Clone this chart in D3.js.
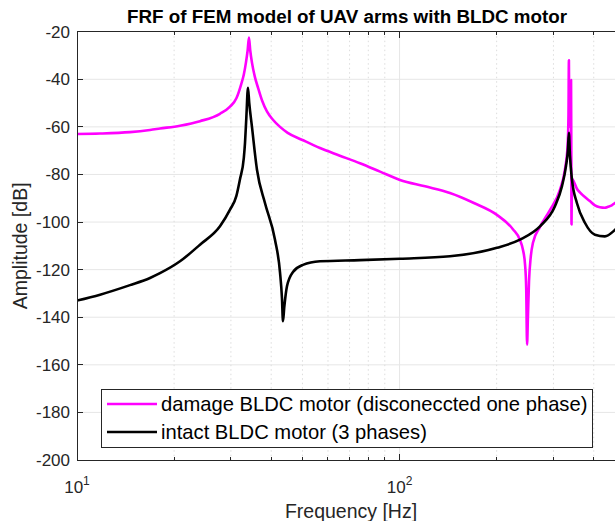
<!DOCTYPE html>
<html>
<head>
<meta charset="utf-8">
<script src="https://cdn.jsdelivr.net/npm/d3@7"></script>
<style>
  html, body { margin: 0; padding: 0; background: #fff; overflow: hidden; }
  svg { display: block; font-family: Arial, "Liberation Sans", Helvetica, sans-serif; }
</style>
</head>
<body>
<svg id="chart" width="615" height="521"></svg>
<script>
// ---------------- DATA ----------------
const titleText = "FRF of FEM model of UAV arms with BLDC motor";
const xLabel = "Frequency [Hz]";
const yLabel = "Amplitude [dB]";
const seriesNames = ["damage BLDC motor (disconeccted one phase)", "intact BLDC motor (3 phases)"];
const seriesColors = ["#ff00ff", "#000000"];

const yTicks = [-20, -40, -60, -80, -100, -120, -140, -160, -180, -200];
const xMajorTicks = [10, 100];
const xMajorLabels = [["10", "1"], ["10", "2"]];
const xMinorTicks = [20, 30, 40, 50, 60, 70, 80, 90, 200, 300, 400, 500];

// damaged motor: frequency [Hz]
const damagedFreq = [10, 11.79, 14.6, 16.84, 18.08, 20.86, 24.06, 27.75, 29.81, 31.2, 32.3, 32.9, 33.4, 33.8, 34.13,
  34.45, 34.87, 35.6, 36.5, 37.5, 38.8, 40.5, 42.6, 45, 50, 56.66, 65, 75.4, 87, 100.3, 120, 143.3, 170, 200.4,
  224.6, 236.2, 241.3, 245, 247, 248.5, 250, 252, 255, 259.2, 272.5, 292.6, 314.2, 325.6, 331.9, 334, 335, 335.8,
  337.5, 339.5, 340.2, 340.8, 341.3, 342, 343.5, 347, 354.7, 362.4, 375.5, 389.2, 403.3, 418, 433, 442.6, 455, 465.3, 480, 500];
// damaged motor: amplitude [dB]
const damagedAmp = [-63, -62.8, -62.2, -61.3, -60.7, -59.5, -57.6, -54.5, -51.5, -48, -42, -38, -33, -28, -22.5,
  -28, -33, -39, -44, -49, -53.5, -57, -60, -62.5, -65.5, -68.9, -72, -75.3, -78.8, -82.3, -85, -87.8, -92, -97,
  -103, -107.5, -111.6, -118, -128, -151.5, -140, -125, -115, -108.7, -102, -95, -86.5, -78, -68, -55, -32, -55,
  -60, -48, -40.3, -70, -101, -88, -82, -83, -86, -87.5, -89.5, -91.2, -93, -93.8, -94, -93.6, -93, -92, -91, -90];

// intact motor: frequency [Hz]
const intactFreq = [10, 11.79, 14.6, 16.84, 18.08, 20.86, 24.06, 27.75, 29.81, 31.2, 32.01, 32.9, 33.18, 33.5, 33.89,
  34.2, 34.87, 36.14, 38.26, 41.1, 42.59, 43.2, 43.51, 43.9, 44.77, 46.73, 50.17, 56.66, 75.4, 100.3, 143.3, 200.4,
  236.2, 272.5, 303.2, 318.7, 328, 332.5, 335, 337.5, 342.3, 354.7, 375.5, 403.3, 433.1, 465.3, 480, 500];
// intact motor: amplitude [dB]
const intactAmp = [-133, -130.5, -126.5, -123.5, -121.5, -116.5, -109.5, -101.8, -94.8, -89, -82, -73, -66.7, -56, -43.6,
  -50, -60, -78, -92, -107.4, -121, -132, -141.7, -136, -127, -121, -118, -116.5, -116, -115.4, -114.4, -110.8,
  -107.4, -101.8, -93.4, -85, -76.6, -70, -62.5, -72, -82, -92, -100.3, -105.3, -106, -103.3, -101.5, -99];

// ---------------- DRAW ----------------
(function () {
const svg = d3.select("#chart");
const pLeft = 77, pTop = 31.7, pRight = 625, pBottom = 460;
const axisColor = "#262626";

const x = d3.scaleLog().domain([10, 500]).range([pLeft, pRight]);
const y = d3.scaleLinear().domain([-200, -20]).range([pBottom, pTop]);

svg.append("defs").append("clipPath").attr("id", "clip")
  .append("rect").attr("x", pLeft).attr("y", pTop).attr("width", pRight - pLeft).attr("height", pBottom - pTop);

// grid
const grid = svg.append("g");
grid.selectAll(".hg").data(yTicks.filter(d => d > -200 && d < -20)).enter().append("line")
  .attr("x1", pLeft).attr("x2", pRight).attr("y1", d => y(d)).attr("y2", d => y(d))
  .attr("stroke", "#e6e6e6").attr("stroke-width", 1);
grid.selectAll(".vmg").data(xMajorTicks.filter(d => d > 10)).enter().append("line")
  .attr("x1", d => x(d)).attr("x2", d => x(d)).attr("y1", pTop).attr("y2", pBottom)
  .attr("stroke", "#e6e6e6").attr("stroke-width", 1);
grid.selectAll(".vmn").data(xMinorTicks).enter().append("line")
  .attr("x1", d => x(d)).attr("x2", d => x(d)).attr("y1", pTop).attr("y2", pBottom)
  .attr("stroke", "#dcdcdc").attr("stroke-width", 1).attr("stroke-dasharray", "1.5,3");

// lines
const line = d3.line().x(d => x(d[0])).y(d => y(d[1])).curve(d3.curveMonotoneX);
const series = [
  d3.zip(damagedFreq, damagedAmp),
  d3.zip(intactFreq, intactAmp)
];
const plot = svg.append("g").attr("clip-path", "url(#clip)");
series.forEach((s, i) => {
  plot.append("path").datum(s).attr("d", line)
    .attr("fill", "none").attr("stroke", seriesColors[i]).attr("stroke-width", 2.6)
    .attr("stroke-linejoin", "round").attr("stroke-linecap", "round");
});

// axes box lines
const ax = svg.append("g").attr("stroke", axisColor).attr("stroke-width", 1).attr("shape-rendering", "crispEdges");
ax.append("line").attr("x1", pLeft).attr("x2", pRight).attr("y1", pBottom).attr("y2", pBottom);
ax.append("line").attr("x1", pLeft).attr("x2", pRight).attr("y1", pTop).attr("y2", pTop);
ax.append("line").attr("x1", pLeft).attr("x2", pLeft).attr("y1", pTop).attr("y2", pBottom);

// x ticks (inside, bottom & top)
xMajorTicks.forEach(t => {
  ax.append("line").attr("x1", x(t)).attr("x2", x(t)).attr("y1", pBottom).attr("y2", pBottom - 6);
  ax.append("line").attr("x1", x(t)).attr("x2", x(t)).attr("y1", pTop).attr("y2", pTop + 6);
});
xMinorTicks.forEach(t => {
  ax.append("line").attr("x1", x(t)).attr("x2", x(t)).attr("y1", pBottom).attr("y2", pBottom - 3.5);
  ax.append("line").attr("x1", x(t)).attr("x2", x(t)).attr("y1", pTop).attr("y2", pTop + 3.5);
});
// y ticks
yTicks.forEach(t => {
  ax.append("line").attr("x1", pLeft).attr("x2", pLeft + 6).attr("y1", y(t)).attr("y2", y(t));
});

// y tick labels
svg.append("g").selectAll("text").data(yTicks).enter().append("text")
  .attr("x", pLeft - 7).attr("y", d => y(d)).attr("dy", "0.35em")
  .attr("text-anchor", "end").attr("font-size", 17).attr("fill", axisColor)
  .text(d => d);

// x tick labels with superscripts
xMajorTicks.forEach((t, i) => {
  const tx = svg.append("text").attr("x", x(t)).attr("y", 493)
    .attr("text-anchor", "middle").attr("font-size", 17).attr("fill", axisColor);
  tx.append("tspan").text(xMajorLabels[i][0]);
  tx.append("tspan").attr("dy", -8).attr("font-size", 12).text(xMajorLabels[i][1]);
});

// axis labels
svg.append("text").attr("x", (pLeft + pRight) / 2).attr("y", 518)
  .attr("text-anchor", "middle").attr("font-size", 19.5).attr("fill", axisColor).text(xLabel);
svg.append("text").attr("transform", `translate(27,${(pTop + pBottom) / 2}) rotate(-90)`)
  .attr("text-anchor", "middle").attr("font-size", 19.5).attr("fill", axisColor).text(yLabel);

// title
svg.append("text").attr("x", 347).attr("y", 23)
  .attr("text-anchor", "middle").attr("font-size", 18.8).attr("font-weight", "bold")
  .attr("fill", "#000").text(titleText);

// legend
const lg = svg.append("g");
lg.append("rect").attr("x", 101.5).attr("y", 389).attr("width", 491).attr("height", 58)
  .attr("fill", "#fff").attr("stroke", axisColor).attr("stroke-width", 1).attr("shape-rendering", "crispEdges");
seriesNames.forEach((name, i) => {
  const ly = 404 + i * 28;
  lg.append("line").attr("x1", 107).attr("x2", 157).attr("y1", ly).attr("y2", ly)
    .attr("stroke", seriesColors[i]).attr("stroke-width", 2.6);
  lg.append("text").attr("x", 161).attr("y", ly).attr("dy", "0.35em")
    .attr("font-size", 20.2).attr("fill", "#000").text(name);
});
})();
</script>
</body>
</html>
